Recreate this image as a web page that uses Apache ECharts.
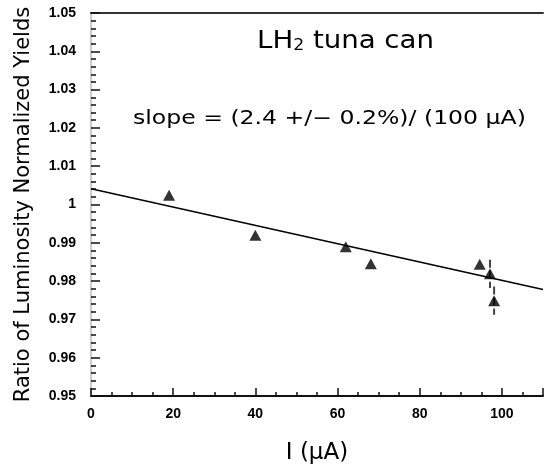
<!DOCTYPE html>
<html><head><meta charset="utf-8">
<script src="https://cdn.jsdelivr.net/npm/echarts@6/dist/echarts.min.js"></script>
<style>html,body{margin:0;padding:0;background:#fff}#c{width:544px;height:467px}</style>
</head><body><div id="c"></div>
<script>
const currents = [19.0, 40.0, 62.0, 68.1, 94.6, 97.1, 98.1];
const ratios = [1.0024, 0.9920, 0.9890, 0.9845, 0.9844, 0.9819, 0.9749];
const errors = [0, 0, 0, 0, 0, 0.0037, 0.0037];
const fitX = [0, 110];
const fitY = [1.0041, 0.9778];

const chart = echarts.init(document.getElementById('c'));
const font = "'DejaVu Sans', sans-serif";
chart.setOption({
  animation: false,
  grid: {left: 91, right: 1, top: 13, bottom: 71, containLabel: false, outerBoundsMode: 'none'},
  xAxis: [{
    type: 'value', min: 0, max: 110, interval: 20,
    axisLine: {lineStyle: {color: '#111', width: 2}},
    axisTick: {inside: true, length: 8, lineStyle: {color: '#111', width: 1.5}},
    minorTick: {show: true, splitNumber: 4, length: 4, lineStyle: {color: '#111', width: 1.5}},
    splitLine: {show: false},
    axisLabel: {color: '#000', fontWeight: 'bold', fontSize: 14, fontFamily: 'Liberation Sans', margin: 11,
      formatter: v => v > 100 ? '' : String(v)},
    name: 'I (μA)', nameLocation: 'middle', nameGap: 46,
    nameTextStyle: {color: '#000', fontSize: 23, fontFamily: font}
  }, {
    type: 'value', min: 0, max: 110, position: 'top',
    axisLine: {show: true, lineStyle: {color: '#333', width: 2}},
    axisTick: {show: false}, axisLabel: {show: false}, splitLine: {show: false}
  }],
  yAxis: [{
    type: 'value', min: 0.95, max: 1.05, interval: 0.01,
    axisLine: {show: true, lineStyle: {color: '#111', width: 2}},
    axisTick: {inside: true, length: 9, lineStyle: {color: '#111', width: 1.5}},
    minorTick: {show: true, splitNumber: 5, length: 5, lineStyle: {color: '#111', width: 1.5}},
    splitLine: {show: false},
    axisLabel: {color: '#000', fontWeight: 'bold', fontSize: 14, fontFamily: 'Liberation Sans', margin: 15,
      formatter: v => String(parseFloat(v.toFixed(2)))},
    name: 'Ratio of Luminosity Normalized Yields', nameLocation: 'middle', nameGap: 57,
    nameTextStyle: {color: '#000', fontSize: 21, fontFamily: font}
  }, {
    type: 'value', min: 0.95, max: 1.05, position: 'right',
    axisLine: {show: true, lineStyle: {color: '#ccc', width: 2}},
    axisTick: {show: false}, axisLabel: {show: false}, splitLine: {show: false}
  }],
  graphic: [
    {type: 'text', x: 257, y: 29, scaleX: 1.15, style: {
      rich: {a: {fontSize: 24, fontFamily: font, fill: '#000'}, s: {fontSize: 15, fontFamily: font, fill: '#000', verticalAlign: 'bottom', padding: [10, 0, 0, 0]}},
      text: '{a|LH}{s|2}{a| tuna can}'}},
    {type: 'text', x: 133, y: 110, scaleX: 1.24, style: {
      text: 'slope = (2.4 +/− 0.2%)/ (100 μA)', fontSize: 19, fontFamily: font, fill: '#000'}}
  ],
  series: [
    {type: 'line', data: fitX.map((x, i) => [x, fitY[i]]), symbol: 'none',
      lineStyle: {color: '#000', width: 1.5}, z: 2},
    {type: 'custom', data: currents.map((x, i) => [x, ratios[i], errors[i]]),
      renderItem: (params, api) => {
        const e = api.value(2);
        if (!e) return null;
        const p1 = api.coord([api.value(0), api.value(1) + e]);
        const p2 = api.coord([api.value(0), api.value(1) - e]);
        return {type: 'line', shape: {x1: p1[0], y1: p1[1], x2: p2[0], y2: p2[1]},
          style: {stroke: '#444', lineWidth: 2, lineDash: [8, 3]}};
      }, z: 3},
    {type: 'scatter', data: currents.map((x, i) => [x, ratios[i]]), symbol: 'triangle',
      symbolSize: [12, 11], itemStyle: {color: '#000'}, z: 4}
  ]
});
</script></body></html>
